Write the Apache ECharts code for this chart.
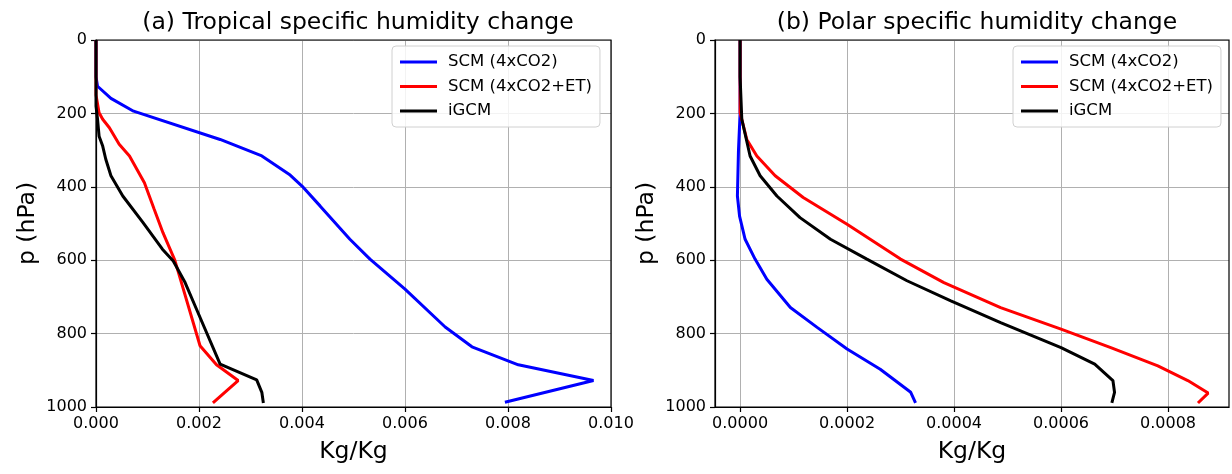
<!DOCTYPE html>
<html>
<head>
<meta charset="utf-8">
<script src="https://cdn.jsdelivr.net/npm/echarts@6/dist/echarts.min.js"></script>
<style>
  html, body { margin: 0; padding: 0; background: #fff; }
  #chart { width: 1232px; height: 474px; }
</style>
</head>
<body>
<div id="chart"></div>
<script>
// (a) tropical profiles: pressure (hPa) and specific humidity change (kg/kg)
const tropPressScm4x = [0, 100, 126, 159, 194, 271, 316, 368, 398, 452, 543, 597, 679, 782, 836, 885, 928, 987]
const tropScm4x = [0, 0, 0.00003, 0.00029, 0.00073, 0.00241, 0.00322, 0.00377, 0.00400, 0.00435, 0.00493, 0.00532, 0.00600, 0.00678, 0.00730, 0.00820, 0.00966, 0.00794]
const tropPressScmEt = [0, 150, 198, 216, 239, 284, 316, 389, 461, 525, 600, 833, 885, 928, 989]
const tropScmEt = [0, 0, 0.00006, 0.00013, 0.00026, 0.00045, 0.00065, 0.00094, 0.00113, 0.00130, 0.00153, 0.00202, 0.00234, 0.00276, 0.00227]
const tropPressGcm = [0, 180, 216, 262, 289, 325, 370, 425, 497, 570, 602, 661, 733, 883, 926, 960, 989]
const tropGcm = [0, 0, 0.00003, 0.00006, 0.00013, 0.00019, 0.00029, 0.00052, 0.00091, 0.00129, 0.00150, 0.00173, 0.00195, 0.00241, 0.00312, 0.00322, 0.00325]

// (b) polar profiles
const polarPressScm4x = [0, 200, 300, 425, 480, 543, 597, 652, 729, 783, 842, 897, 960, 989]
const polarScm4x = [0, 0, -0.000003, -0.000005, -0.000001, 0.0000094, 0.000028, 0.00005, 0.000094, 0.000144, 0.0002, 0.000262, 0.000319, 0.000328]
const polarPressScmEt = [0, 198, 271, 316, 370, 429, 502, 597, 661, 729, 788, 838, 888, 928, 962, 989]
const polarScmEt = [0, 0, 0.0000125, 0.0000313, 0.0000656, 0.000118, 0.0002, 0.0003, 0.000381, 0.000487, 0.0006, 0.000693, 0.000781, 0.000837, 0.000875, 0.000856]
const polarPressGcm = [0, 100, 216, 316, 370, 425, 484, 543, 597, 656, 711, 770, 838, 883, 928, 960, 989]
const polarGcm = [0, 0, 0.0000032, 0.0000187, 0.0000375, 0.0000688, 0.000112, 0.000169, 0.000237, 0.000312, 0.000394, 0.000487, 0.0006, 0.000663, 0.000697, 0.0007, 0.000695]

const seriesNames = ['SCM (4xCO2)', 'SCM (4xCO2+ET)', 'iGCM']
const seriesColors = ['#0000ff', '#ff0000', '#000000']
const tropTicks = [0, 0.002, 0.004, 0.006, 0.008, 0.010]
const polarTicks = [0, 0.0002, 0.0004, 0.0006, 0.0008]

const font = 'DejaVu Sans'

function pairs (xs, ps) {
  return xs.map((x, i) => [x, ps[i]])
}

function makeXAxis (idx, min, max, ticks, digits) {
  return {
    type: 'value',
    gridIndex: idx,
    min: min,
    max: max,
    name: 'Kg/Kg',
    nameLocation: 'middle',
    nameGap: 33,
    nameTextStyle: { fontSize: 23.5, color: '#000', fontFamily: font },
    axisLine: { show: true, onZero: false, lineStyle: { color: '#000', width: 1.2 } },
    axisTick: { show: true, length: 5, lineStyle: { color: '#000', width: 1.2 }, customValues: ticks },
    axisLabel: {
      color: '#000', fontSize: 16, fontFamily: font, margin: 9,
      customValues: ticks,
      formatter: v => v.toFixed(digits)
    },
    splitLine: { show: true, lineStyle: { color: '#b0b0b0', width: 1 } }
  }
}

function makeYAxis (idx) {
  return {
    type: 'value',
    gridIndex: idx,
    inverse: true,
    min: 0,
    max: 1000,
    interval: 200,
    name: 'p (hPa)',
    nameLocation: 'middle',
    nameGap: 56,
    nameRotate: 90,
    nameTextStyle: { fontSize: 23.5, color: '#000', fontFamily: font },
    axisLine: { show: true, onZero: false, lineStyle: { color: '#000', width: 1.2 } },
    axisTick: { show: true, length: 5, lineStyle: { color: '#000', width: 1.2 } },
    axisLabel: { color: '#000', fontSize: 16, fontFamily: font, margin: 9, formatter: v => String(v) },
    splitLine: { show: true, lineStyle: { color: '#b0b0b0', width: 1 } }
  }
}

function makeLegend (left) {
  return {
    left: left,
    top: 46,
    orient: 'vertical',
    data: seriesNames.map(n => ({ name: n, icon: 'rect' })),
    itemWidth: 37,
    itemHeight: 3,
    itemGap: 6.5,
    padding: [7, 8, 7, 8],
    borderColor: '#d0d0d0',
    borderWidth: 1,
    borderRadius: 4,
    backgroundColor: 'rgba(255,255,255,0.85)',
    selectedMode: false,
    z: 6,
    textStyle: { fontSize: 16.5, color: '#000', fontFamily: font, lineHeight: 18, padding: [0, 0, 0, 6] }
  }
}

function makeLine (name, color, idx, data) {
  return {
    name: name,
    type: 'line',
    xAxisIndex: idx,
    yAxisIndex: idx,
    data: data,
    showSymbol: false,
    symbol: 'none',
    color: color,
    lineStyle: { width: 3, color: color },
    animation: false
  }
}

const chart = echarts.init(document.getElementById('chart'))
const option = {
  animation: false,
  textStyle: { fontFamily: font },
  title: [
    { text: '(a) Tropical specific humidity change', left: 353, top: 6, textAlign: 'center',
      textStyle: { fontSize: 23.5, fontWeight: 'normal', color: '#000', fontFamily: font } },
    { text: '(b) Polar specific humidity change', left: 972, top: 6, textAlign: 'center',
      textStyle: { fontSize: 23.5, fontWeight: 'normal', color: '#000', fontFamily: font } }
  ],
  legend: [makeLegend(392), makeLegend(1013)],
  grid: [
    { left: 96, top: 40, width: 515, height: 367, show: true, z: 4, borderColor: '#000', borderWidth: 1.2 },
    { left: 715, top: 40, width: 514, height: 367, show: true, z: 4, borderColor: '#000', borderWidth: 1.2 }
  ],
  xAxis: [
    makeXAxis(0, 0, 0.010, tropTicks, 3),
    makeXAxis(1, -0.0000469, 0.000914, polarTicks, 4)
  ],
  yAxis: [makeYAxis(0), makeYAxis(1)],
  series: [
    makeLine(seriesNames[0], seriesColors[0], 0, pairs(tropScm4x, tropPressScm4x)),
    makeLine(seriesNames[1], seriesColors[1], 0, pairs(tropScmEt, tropPressScmEt)),
    makeLine(seriesNames[2], seriesColors[2], 0, pairs(tropGcm, tropPressGcm)),
    makeLine(seriesNames[0], seriesColors[0], 1, pairs(polarScm4x, polarPressScm4x)),
    makeLine(seriesNames[1], seriesColors[1], 1, pairs(polarScmEt, polarPressScmEt)),
    makeLine(seriesNames[2], seriesColors[2], 1, pairs(polarGcm, polarPressGcm))
  ]
}
chart.setOption(option)
</script>
</body>
</html>
